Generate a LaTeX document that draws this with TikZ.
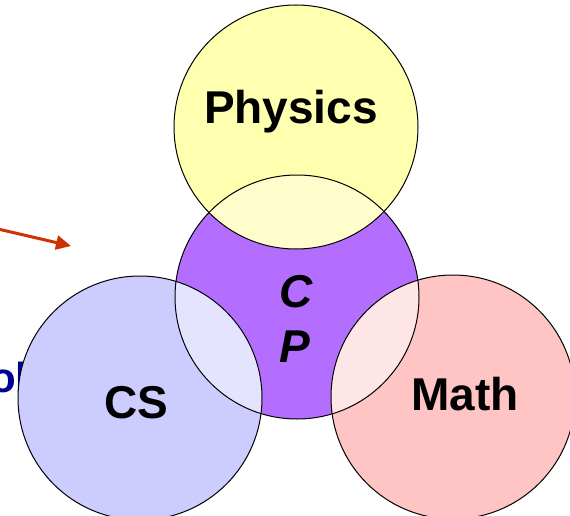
\documentclass[tikz,border=0pt]{standalone}
\usepackage{fontspec}
\setmainfont{Liberation Sans}
\usetikzlibrary{arrows.meta}
\definecolor{physc}{HTML}{FFFFB0}
\definecolor{csc}{HTML}{CCCCFF}
\definecolor{mathc}{HTML}{FFC4C4}
\definecolor{cpc}{HTML}{B46EFF}
\definecolor{physcp}{HTML}{FFFDCC}
\definecolor{cscp}{HTML}{E4E4FF}
\definecolor{mathcp}{HTML}{FFE6E6}
\definecolor{arrowc}{HTML}{CC3300}
\definecolor{bluetxt}{HTML}{000099}
\tikzset{
  lbl/.style={font=\fontsize{46}{50}\selectfont\bfseries, anchor=base, inner sep=0pt},
  ilbl/.style={lbl, font=\fontsize{46}{50}\selectfont\bfseries\itshape},
  ring/.style={draw=black, line width=1pt},
  pointer/.style={draw=arrowc, line width=3pt, -{Triangle[length=15pt,width=14pt]}}
}
\begin{document}
\begin{tikzpicture}[x=1pt,y=-1pt]
\useasboundingbox (0,0) rectangle (570,516);
\fill[white] (0,0) rectangle (570,516);
% partial blue text at left edge
\node[lbl, anchor=base west, text=bluetxt, font=\fontsize{42}{46}\selectfont\bfseries] (cut) at (-10,392) {ob};
% circle centers
\coordinate (P) at (296,127);
\coordinate (CP) at (297,297);
\coordinate (CS) at (140,398);
\coordinate (M) at (453,397);
% fills
\fill[cpc] (CP) circle (122pt);
\fill[physc] (P) circle (122pt);
\fill[csc] (CS) circle (122pt);
\fill[mathc] (M) circle (122pt);
\begin{scope}
  \clip (CP) circle (122pt);
  \fill[physcp] (P) circle (122pt);
  \fill[cscp] (CS) circle (122pt);
  \fill[mathcp] (M) circle (122pt);
\end{scope}
% outlines
\draw[ring] (CP) circle (122pt);
\draw[ring] (P) circle (122pt);
\draw[ring] (CS) circle (122pt);
\draw[ring] (M) circle (122pt);
% labels
\node[lbl] (phys) at (291,124) {Physics};
\node[lbl] (cs) at (136,418) {CS};
\node[lbl] (math) at (465,410) {Math};
\node[ilbl] (c) at (296,307) {C};
\node[ilbl] (p) at (295,362) {P};
% arrow
\coordinate (a0) at (-2,229);
\coordinate (a1) at (71,246);
\draw[pointer] (a0) -- (a1);
\end{tikzpicture}
\end{document}
